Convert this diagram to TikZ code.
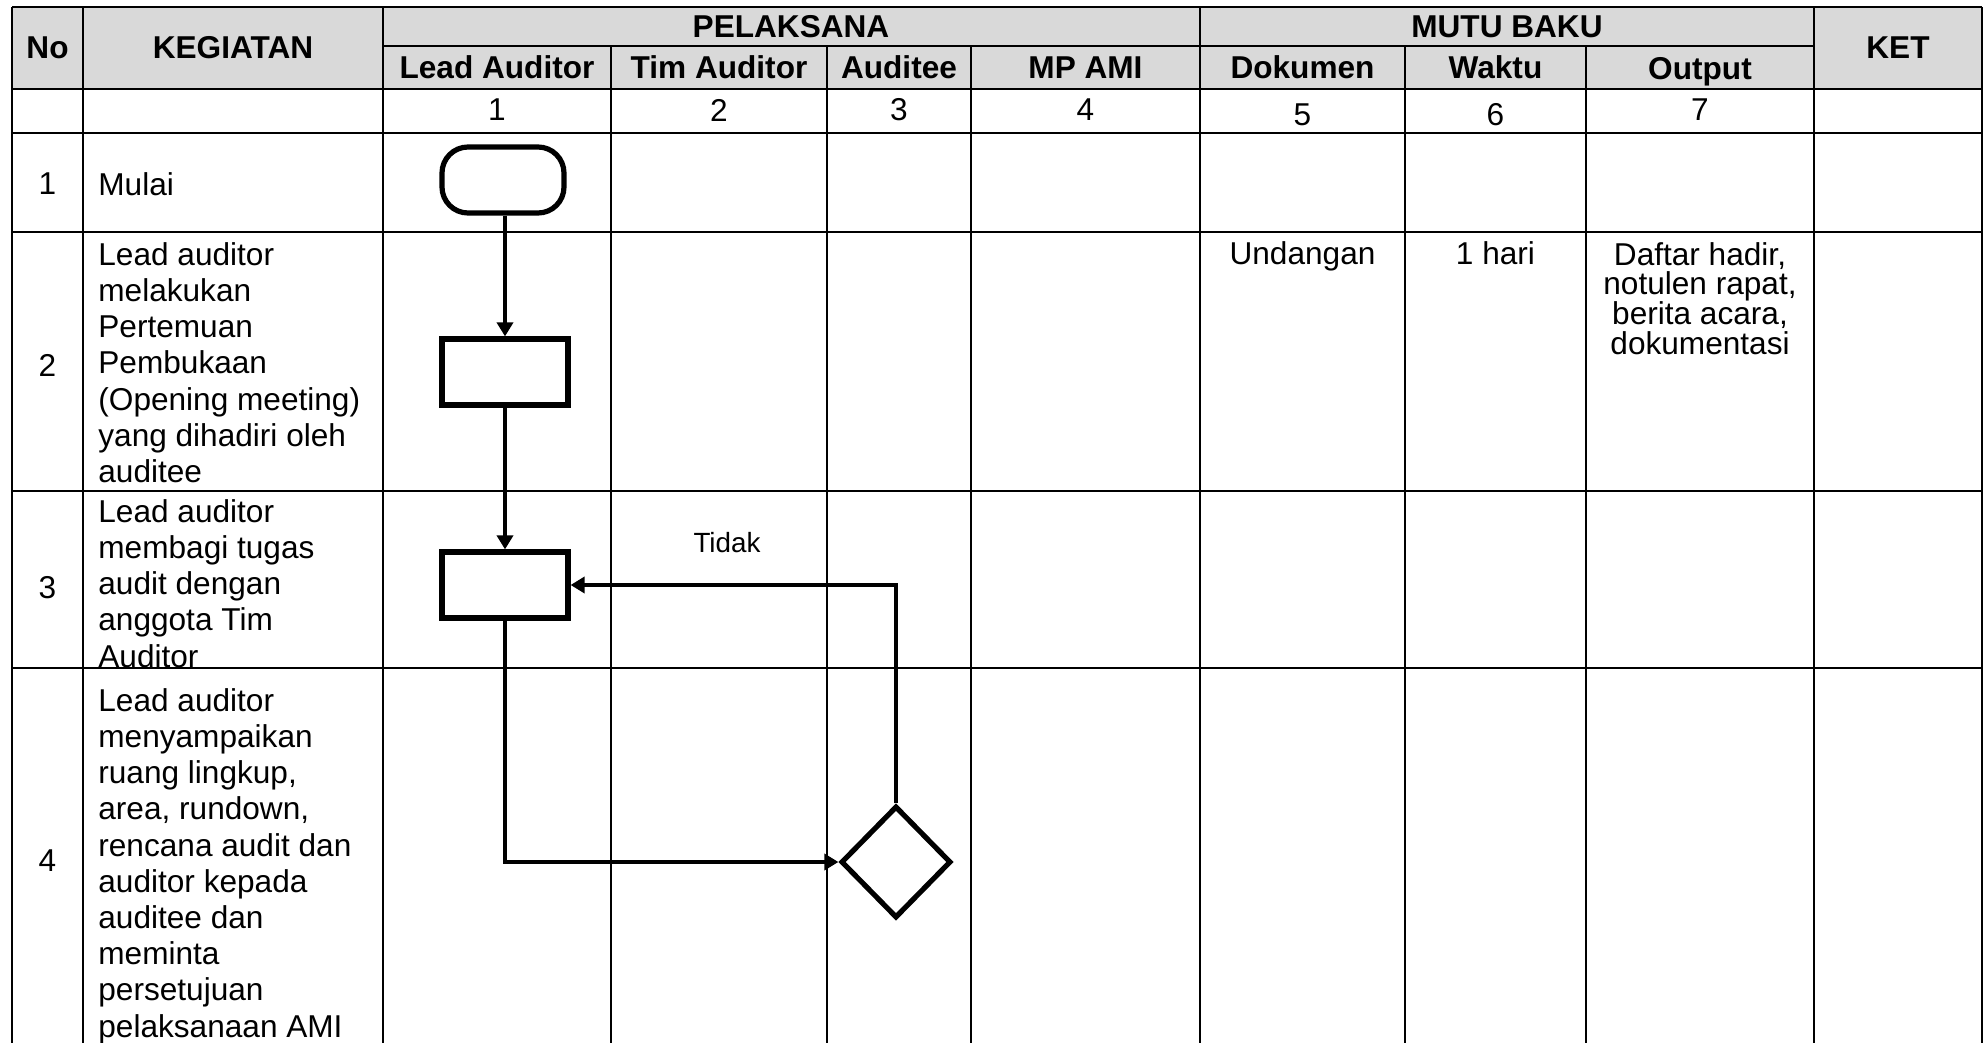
\documentclass[tikz,border=0pt]{standalone}
\usepackage{fontspec}
\setmainfont{Liberation Sans}
\usetikzlibrary{shapes.geometric,arrows.meta,positioning,calc}
\definecolor{kepala}{RGB}{217,217,217}

\begin{document}
\begin{tikzpicture}[x=0.5pt,y=-0.5pt,
    garis/.style={line width=1.1pt},
    judul/.style={font=\fontsize{15.8}{18}\selectfont\bfseries,inner sep=0pt},
    isi/.style={font=\fontsize{15.8}{18}\selectfont,inner sep=0pt},
    uraian/.style={font=\fontsize{15.8}{18.1}\selectfont,align=left,anchor=north west,inner sep=0pt},
    terminal/.style={rectangle,rounded corners=13pt,draw,line width=2.6pt,minimum width=61pt,minimum height=33pt},
    proses/.style={rectangle,draw,line width=2.6pt,minimum width=63pt,minimum height=33pt},
    keputusan/.style={diamond,draw,line width=2.6pt,minimum width=55pt,minimum height=56pt,inner sep=0pt},
    alur/.style={line width=2.4pt,-{Triangle[length=7pt,width=8pt]}}]
    \useasboundingbox (0,0) rectangle (1988,1043);

    % Kepala tabel
    \fill[kepala] (12,7) rectangle (1982,89);
    \draw[garis] (12,7) -- (1982,7);
    \draw[garis] (383,46) -- (1814,46);
    \draw[garis] (12,89) -- (1982,89);
    \draw[garis] (12,133) -- (1982,133);

    % Baris kegiatan
    \draw[garis] (12,232) -- (1982,232);
    \draw[garis] (12,491) -- (1982,491);
    \draw[garis] (12,668) -- (1982,668);

    % Garis kolom
    \draw[garis] (12,7) -- (12,1043);
    \draw[garis] (83,7) -- (83,1043);
    \draw[garis] (383,7) -- (383,1043);
    \draw[garis] (611,46) -- (611,1043);
    \draw[garis] (827,46) -- (827,1043);
    \draw[garis] (971,46) -- (971,1043);
    \draw[garis] (1200,7) -- (1200,1043);
    \draw[garis] (1405,46) -- (1405,1043);
    \draw[garis] (1586,46) -- (1586,1043);
    \draw[garis] (1814,7) -- (1814,1043);
    \draw[garis] (1982,7) -- (1982,1043);

    % Judul kolom
    \node[judul] (hNo) at (47.5,48) {No};
    \node[judul] (hKegiatan) at (233,48) {KEGIATAN};
    \node[judul] (hKet) at (1898,48) {KET};
    \node[judul] (hPelaksana) at (791,26.5) {PELAKSANA};
    \node[judul] (hMutu) at (1507,26.5) {MUTU BAKU};
    \node[judul] (hLead) at (497,67.5) {Lead Auditor};
    \node[judul] (hTim) at (719,67.5) {Tim Auditor};
    \node[judul] (hAuditee) at (899,67.5) {Auditee};
    \node[judul] (hMp) at (1085.5,67.5) {MP AMI};
    \node[judul] (hDokumen) at (1302.5,67.5) {Dokumen};
    \node[judul] (hWaktu) at (1495.5,67.5) {Waktu};
    \node[judul] (hOutput) at (1700,72) {Output};

    % Nomor kolom
    \node[isi] (k1) at (497,110) {1};
    \node[isi] (k2) at (719,110) {2};
    \node[isi] (k3) at (899,110) {3};
    \node[isi] (k4) at (1085.5,110) {4};
    \node[isi] (k5) at (1302.5,115) {5};
    \node[isi] (k6) at (1495.5,115) {6};
    \node[isi] (k7) at (1700,110) {7};

    % Nomor dan uraian kegiatan
    \node[isi] (n1) at (47.5,184) {1};
    \node[isi] (n2) at (47.5,365) {2};
    \node[isi] (n3) at (47.5,588) {3};
    \node[isi] (n4) at (47.5,861) {4};
    \node[isi,anchor=west] (u1) at (98,184) {Mulai};
    \node[uraian] (u2) at (98,242) {Lead auditor\\melakukan\\Pertemuan\\Pembukaan\\(Opening meeting)\\yang dihadiri oleh\\auditee};
    \node[uraian] (u3) at (98,499) {Lead auditor\\membagi tugas\\audit dengan\\anggota Tim\\Auditor};
    \node[uraian] (u4) at (98,688) {Lead auditor\\menyampaikan\\ruang lingkup,\\area, rundown,\\rencana audit dan\\auditor kepada\\auditee dan\\meminta\\persetujuan\\pelaksanaan AMI};

    % Mutu baku
    \node[isi,anchor=base] (dok2) at (1302.5,265) {Undangan};
    \node[isi,anchor=base] (waktu2) at (1495.5,265) {1 hari};
    \node[isi,anchor=north,align=center,font=\fontsize{15.8}{14.8}\selectfont] (out2) at (1700,242) {Daftar hadir,\\notulen rapat,\\berita acara,\\dokumentasi};

    % Bagan alir
    \node[terminal] (mulai) at (503,180) {};
    \node[proses] (bukaRapat) at (505,372) {};
    \node[proses] (bagiTugas) at (505,585) {};
    \node[keputusan] (setuju) at (896,862) {};
    \draw[alur] (mulai.south -| bukaRapat) -- (bukaRapat);
    \draw[alur] (bukaRapat) -- (bagiTugas);
    \draw[alur] (bagiTugas.south) |- (setuju.west);
    \draw[alur] (setuju.north) |- (bagiTugas.east);
    \node[font=\fontsize{13.9}{16}\selectfont,inner sep=0pt] (tidak) at (727,543) {Tidak};
\end{tikzpicture}
\end{document}
